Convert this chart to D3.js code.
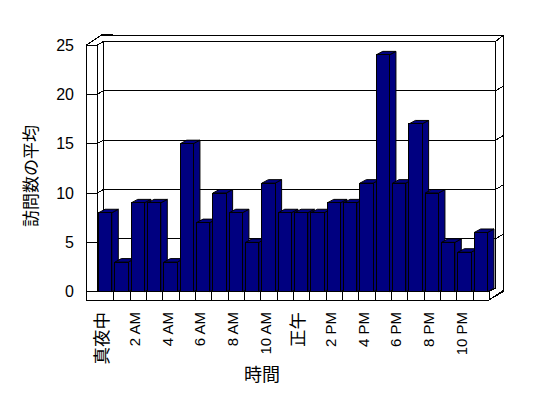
<!DOCTYPE html>
<html>
<head>
<meta charset="utf-8">
<script src="https://cdn.jsdelivr.net/npm/d3@7"></script>
<style>
  body { margin: 0; background: #fff; }
  svg text { font-family: "Liberation Sans", "Noto Sans CJK JP", sans-serif; fill: #000; }
</style>
</head>
<body>
<div id="chart"></div>
<script>
// hourly averages, midnight .. 11 PM
const hours = d3.range(24);
const visits = [8, 3, 9, 9, 3, 15, 7, 10, 8, 5, 11, 8, 8, 8, 9, 9, 11, 24, 11, 17, 10, 5, 4, 6];
const hourLabels = ["真夜中", "2 AM", "4 AM", "6 AM", "8 AM", "10 AM", "正午", "2 PM", "4 PM", "6 PM", "8 PM", "10 PM"];
const yTicks = [0, 5, 10, 15, 20, 25];
const yTitle = "訪問数の平均";
const xTitle = "時間";

const width = 548, height = 398;
const depth = [6.5, -3.5];   // front plane -> back wall face
const rear = [7.5, -6];      // back wall thickness
const wallW = 10.5;          // left wall thickness
const slab = 8.3;            // floor thickness

const isCJK = s => /[\u3000-\u9fff]/.test(s);

const svg = d3.select("#chart").append("svg")
  .attr("width", width).attr("height", height)
  .style("display", "block");

const x = d3.scaleBand().domain(hours).range([97, 489])
  .paddingInner(0.19).paddingOuter(0.095);
const y = d3.scaleLinear().domain([0, 25]).range([291.7, 45]);

const xl = x.range()[0], xr = x.range()[1];
const y0 = y(0), yTop = y(25);
const line = d3.line();

const frame = svg.append("g")
  .attr("fill", "none").attr("stroke", "#000").attr("stroke-width", 1)
  .attr("shape-rendering", "crispEdges");

// outer silhouette of walls + floor
frame.append("path")
  .attr("fill", "#fff")
  .attr("d", line([
    [xl - wallW, yTop],
    [xl + depth[0] + rear[0] - wallW + 1, yTop + depth[1] + rear[1] - 0.5],
    [xr + depth[0] + rear[0], yTop + depth[1] + rear[1]],
    [xr + depth[0] + rear[0], y0],
    [xr, y0 + slab],
    [xl - wallW, y0 + slab]
  ]) + "Z");

// back wall face
frame.append("path").attr("d", line([
  [xl + depth[0], y0 + depth[1]],
  [xl + depth[0], yTop + depth[1]],
  [xr + depth[0], yTop + depth[1]],
  [xr + depth[0], y0 + depth[1]]
]));
frame.append("path").attr("d", line([
  [xr + depth[0], yTop + depth[1]],
  [xr + depth[0] + rear[0], yTop + depth[1] + rear[1]]
]));

// left wall front face
frame.append("path").attr("d", line([
  [xl - wallW, yTop], [xl, yTop], [xl, y0]
]));
frame.append("path").attr("d", line([
  [xl, yTop], [xl + depth[0], yTop + depth[1]]
]));

// gridlines and wall ticks
yTicks.filter(v => v > 0 && v < 25).forEach(v => {
  const yy = y(v);
  frame.append("path").attr("d", line([
    [xl - wallW, yy], [xl, yy], [xl + depth[0], yy + depth[1]],
    [xr + depth[0], yy + depth[1]],
    [xr + depth[0] + rear[0], yy + depth[1] + rear[1] + 1.5]
  ]));
});

// floor front face
frame.append("path").attr("d", line([[xl - wallW, y0], [xr, y0]]));
frame.append("path").attr("d", line([
  [xr, y0 + slab], [xr, y0], [xr + depth[0], y0 + depth[1]]
]));
frame.append("path").attr("d", line([
  [xr, y0 + slab], [xr + depth[0] + rear[0], y0 + slab + depth[1] + rear[1]]
]));
frame.selectAll(".div")
  .data(hours.slice(1))
  .enter()
  .append("path")
  .attr("d", h => {
    const xx = Math.round(x(h) - x.step() * x.paddingInner() / 2);
    return line([[xx, y0], [xx, y0 + slab]]);
  });

// bars, left to right so each front covers the previous side
const bars = svg.append("g")
  .attr("fill", "#000080").attr("stroke", "#000").attr("stroke-width", 1)
  .attr("stroke-linejoin", "miter");

hours.forEach(h => {
  const x0 = x(h), w = x.bandwidth(), yt = y(visits[h]);
  const g = bars.append("g");
  g.append("path").attr("d", line([
    [x0 + w, yt], [x0 + w + depth[0], yt + depth[1]],
    [x0 + w + depth[0], y0 + depth[1]], [x0 + w, y0]
  ]) + "Z");
  g.append("path").attr("d", line([
    [x0, yt], [x0 + depth[0], yt + depth[1]],
    [x0 + w + depth[0], yt + depth[1]], [x0 + w, yt]
  ]) + "Z");
  g.append("rect")
    .attr("x", x0).attr("y", yt)
    .attr("width", w).attr("height", y0 - yt)
    .attr("shape-rendering", "crispEdges");
});

// y tick labels
svg.append("g")
  .selectAll("text")
  .data(yTicks)
  .enter()
  .append("text")
  .attr("x", 74)
  .attr("y", d => y(d))
  .attr("dy", "0.35em")
  .attr("text-anchor", "end")
  .style("font-size", "16px")
  .text(d => d);

// x tick labels, every other hour, rotated
svg.append("g")
  .selectAll("text")
  .data(hourLabels)
  .enter()
  .append("text")
  .attr("transform", (d, i) => `translate(${x(i * 2) + x.bandwidth() / 2 - 3},312) rotate(-90)`)
  .attr("dy", "0.35em")
  .attr("text-anchor", "end")
  .style("font-size", d => isCJK(d) ? "17.5px" : "15px")
  .text(d => d);

// axis titles
svg.append("text")
  .attr("transform", "translate(31,176) rotate(-90)")
  .attr("text-anchor", "middle")
  .attr("dy", "0.35em")
  .style("font-size", "17px")
  .text(yTitle);

svg.append("text")
  .attr("x", 262).attr("y", 375)
  .attr("text-anchor", "middle")
  .attr("dy", "0.35em")
  .style("font-size", "18px")
  .text(xTitle);
</script>
</body>
</html>
